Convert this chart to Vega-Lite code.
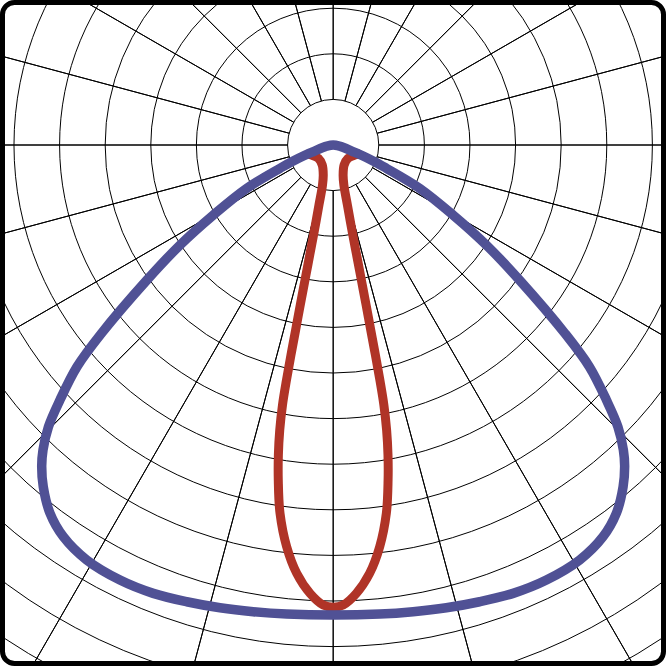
{
  "$schema": "https://vega.github.io/schema/vega-lite/v6.json",
  "width": 661,
  "height": 661,
  "padding": 2.5,
  "autosize": "none",
  "background": "white",
  "config": {"view": {"stroke": "black", "strokeWidth": 5, "cornerRadius": 12}},
  "datasets": {
    "rings": [
      {"r": 50}, {"r": 100}, {"r": 150}, {"r": 200}, {"r": 250}, {"r": 300}, {"r": 350},
      {"r": 400}, {"r": 450}, {"r": 500}, {"r": 550}, {"r": 600}, {"r": 650}, {"r": 700}
    ],
    "spokes": [
      {"a": 0}, {"a": 15}, {"a": 30}, {"a": 45}, {"a": 60}, {"a": 75}, {"a": 90}, {"a": 105},
      {"a": 120}, {"a": 135}, {"a": 150}, {"a": 165}, {"a": 180}, {"a": 195}, {"a": 210}, {"a": 225},
      {"a": 240}, {"a": 255}, {"a": 270}, {"a": 285}, {"a": 300}, {"a": 315}, {"a": 330}, {"a": 345}
    ],
    "red": [
      {"i": 0, "x": -29.8, "y": -9.3},
      {"i": 1, "x": -23.6, "y": -11.0},
      {"i": 2, "x": -16.3, "y": -14.6},
      {"i": 3, "x": -12.0, "y": -21.9},
      {"i": 4, "x": -10.9, "y": -32.9},
      {"i": 5, "x": -11.7, "y": -43.9},
      {"i": 6, "x": -15.6, "y": -65.8},
      {"i": 7, "x": -20.5, "y": -93.2},
      {"i": 8, "x": -25.7, "y": -120.6},
      {"i": 9, "x": -30.9, "y": -148.0},
      {"i": 10, "x": -36.1, "y": -175.4},
      {"i": 11, "x": -41.2, "y": -202.9},
      {"i": 12, "x": -46.3, "y": -230.3},
      {"i": 13, "x": -51.2, "y": -257.7},
      {"i": 14, "x": -55.6, "y": -285.1},
      {"i": 15, "x": -58.6, "y": -312.5},
      {"i": 16, "x": -60.1, "y": -339.9},
      {"i": 17, "x": -60.2, "y": -367.3},
      {"i": 18, "x": -58.3, "y": -403.8},
      {"i": 19, "x": -51.0, "y": -440.5},
      {"i": 20, "x": -40.0, "y": -469.6},
      {"i": 21, "x": -25.4, "y": -491.6},
      {"i": 22, "x": -10.9, "y": -504.4},
      {"i": 23, "x": 0, "y": -506.9},
      {"i": 24, "x": 10.9, "y": -504.4},
      {"i": 25, "x": 25.4, "y": -491.6},
      {"i": 26, "x": 40.0, "y": -469.6},
      {"i": 27, "x": 51.0, "y": -440.5},
      {"i": 28, "x": 58.3, "y": -403.8},
      {"i": 29, "x": 60.2, "y": -367.3},
      {"i": 30, "x": 60.1, "y": -339.9},
      {"i": 31, "x": 58.6, "y": -312.5},
      {"i": 32, "x": 55.6, "y": -285.1},
      {"i": 33, "x": 51.2, "y": -257.7},
      {"i": 34, "x": 46.3, "y": -230.3},
      {"i": 35, "x": 41.2, "y": -202.9},
      {"i": 36, "x": 36.1, "y": -175.4},
      {"i": 37, "x": 30.9, "y": -148.0},
      {"i": 38, "x": 25.7, "y": -120.6},
      {"i": 39, "x": 20.5, "y": -93.2},
      {"i": 40, "x": 15.6, "y": -65.8},
      {"i": 41, "x": 11.7, "y": -43.9},
      {"i": 42, "x": 10.9, "y": -32.9},
      {"i": 43, "x": 12.0, "y": -21.9},
      {"i": 44, "x": 16.3, "y": -14.6},
      {"i": 45, "x": 23.6, "y": -11.0},
      {"i": 46, "x": 29.8, "y": -9.3}
    ],
    "blue": [
      {"i": 0, "x": 21.8, "y": -7.3},
      {"i": 1, "x": 0, "y": 0},
      {"i": 2, "x": -21.8, "y": -7.3},
      {"i": 3, "x": -43.8, "y": -17.5},
      {"i": 4, "x": -58.3, "y": -25.5},
      {"i": 5, "x": -94.8, "y": -47.5},
      {"i": 6, "x": -131.5, "y": -76.8},
      {"i": 7, "x": -168.0, "y": -109.7},
      {"i": 8, "x": -204.2, "y": -148.0},
      {"i": 10, "x": -254.1, "y": -206.5},
      {"i": 11, "x": -280.9, "y": -243.1},
      {"i": 12, "x": -299.6, "y": -279.6},
      {"i": 13, "x": -312.2, "y": -308.9},
      {"i": 14, "x": -318.2, "y": -334.4},
      {"i": 15, "x": -319.6, "y": -352.0},
      {"i": 16, "x": -317.9, "y": -374.7},
      {"i": 17, "x": -310.5, "y": -403.8},
      {"i": 18, "x": -295.9, "y": -429.5},
      {"i": 19, "x": -270.3, "y": -455.0},
      {"i": 20, "x": -233.8, "y": -477.0},
      {"i": 21, "x": -197.3, "y": -491.6},
      {"i": 22, "x": -160.6, "y": -500.8},
      {"i": 23, "x": -124.1, "y": -507.4},
      {"i": 24, "x": -87.6, "y": -511.7},
      {"i": 25, "x": -51.0, "y": -514.3},
      {"i": 26, "x": 0, "y": -515.4},
      {"i": 27, "x": 51.0, "y": -514.3},
      {"i": 28, "x": 87.6, "y": -511.7},
      {"i": 29, "x": 124.1, "y": -507.4},
      {"i": 30, "x": 160.6, "y": -500.8},
      {"i": 31, "x": 197.3, "y": -491.6},
      {"i": 32, "x": 233.8, "y": -477.0},
      {"i": 33, "x": 270.3, "y": -455.0},
      {"i": 34, "x": 295.9, "y": -429.5},
      {"i": 35, "x": 310.5, "y": -403.8},
      {"i": 36, "x": 317.9, "y": -374.7},
      {"i": 37, "x": 319.6, "y": -352.0},
      {"i": 38, "x": 318.2, "y": -334.4},
      {"i": 39, "x": 312.2, "y": -308.9},
      {"i": 40, "x": 299.6, "y": -279.6},
      {"i": 41, "x": 280.9, "y": -243.1},
      {"i": 42, "x": 254.1, "y": -206.5},
      {"i": 44, "x": 204.2, "y": -148.0},
      {"i": 45, "x": 168.0, "y": -109.7},
      {"i": 46, "x": 131.5, "y": -76.8},
      {"i": 47, "x": 94.8, "y": -47.5},
      {"i": 48, "x": 58.3, "y": -25.5},
      {"i": 49, "x": 43.8, "y": -17.5},
      {"i": 50, "x": 21.8, "y": -7.3},
      {"i": 51, "x": 0, "y": 0},
      {"i": 52, "x": -21.8, "y": -7.3}
    ]
  },
  "layer": [
    {
      "data": {"name": "rings"},
      "mark": {"type": "arc", "filled": false, "stroke": "black", "strokeWidth": 1, "theta": 0, "theta2": 6.2832, "clip": true},
      "encoding": {
        "x": {"datum": 0, "type": "quantitative", "scale": {"domain": [-362.6, 362.2], "nice": false, "zero": false}, "axis": null},
        "y": {"datum": 0, "type": "quantitative", "scale": {"domain": [-568.5, 156.25], "nice": false, "zero": false}, "axis": null},
        "radius": {"field": "r", "type": "quantitative", "stack": null, "scale": {"type": "linear", "domain": [0, 1000], "range": [0, 912]}}
      }
    },
    {
      "data": {"name": "spokes"},
      "mark": {"type": "arc", "filled": false, "stroke": "black", "strokeWidth": 1, "clip": true},
      "encoding": {
        "x": {"datum": 0, "type": "quantitative", "scale": {"domain": [-362.6, 362.2], "nice": false, "zero": false}, "axis": null},
        "y": {"datum": 0, "type": "quantitative", "scale": {"domain": [-568.5, 156.25], "nice": false, "zero": false}, "axis": null},
        "theta": {"field": "a", "type": "quantitative", "scale": {"domain": [0, 360], "range": [0, 6.283185]}},
        "theta2": {"field": "a"},
        "radius": {"datum": 800, "type": "quantitative", "scale": {"type": "linear", "domain": [0, 1000], "range": [0, 912]}},
        "radius2": {"datum": 50}
      }
    },
    {
      "data": {"name": "red"},
      "mark": {"type": "line", "interpolate": "catmull-rom", "color": "#b03427", "strokeWidth": 9, "strokeCap": "butt", "strokeJoin": "round"},
      "encoding": {
        "x": {"field": "x", "type": "quantitative", "scale": {"domain": [-362.6, 362.2], "nice": false, "zero": false}, "axis": null},
        "y": {"field": "y", "type": "quantitative", "scale": {"domain": [-568.5, 156.25], "nice": false, "zero": false}, "axis": null},
        "order": {"field": "i"}
      }
    },
    {
      "data": {"name": "blue"},
      "mark": {"type": "line", "interpolate": "catmull-rom", "color": "#505195", "strokeWidth": 9.5, "strokeCap": "round", "strokeJoin": "round"},
      "encoding": {
        "x": {"field": "x", "type": "quantitative", "scale": {"domain": [-362.6, 362.2], "nice": false, "zero": false}, "axis": null},
        "y": {"field": "y", "type": "quantitative", "scale": {"domain": [-568.5, 156.25], "nice": false, "zero": false}, "axis": null},
        "order": {"field": "i"}
      }
    }
  ]
}
